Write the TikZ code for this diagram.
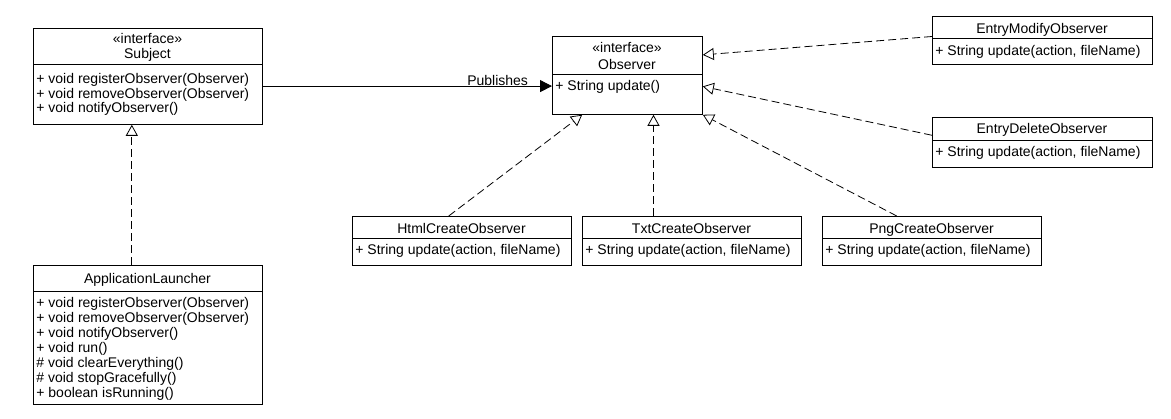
\documentclass[tikz,border=0pt]{standalone}
\usepackage{fontspec}
\setmainfont{Liberation Sans}
\usetikzlibrary{arrows.meta}
\usetikzlibrary{calc}

\tikzset{
  classbox/.style={draw, inner sep=0pt, anchor=north west},
  title/.style={anchor=base, inner sep=0pt},
  member/.style={anchor=base west, inner sep=0pt},
  realize/.style={dash pattern=on 8pt off 4pt, -{Triangle[open, length=11pt, width=12pt, fill=white]}},
  publish/.style={-{Triangle[length=12pt, width=12pt]}},
}

\begin{document}
\begin{tikzpicture}[x=1pt, y=-1pt, line width=0.8pt, font=\fontsize{14}{15}\selectfont]
\useasboundingbox (0,0) rectangle (1171,419);

% Subject
\node[classbox, minimum width=229pt, minimum height=96pt] (subject) at (33,28) {};
\draw (33,64) -- (262,64);
\node[title] (subject-st) at (147.5,43.5) {«interface»};
\node[title] (subject-name) at (147.5,59) {Subject};
\node[member] (subject-m1) at (36,84) {+ void registerObserver(Observer)};
\node[member] (subject-m2) at (36,98.5) {+ void removeObserver(Observer)};
\node[member] (subject-m3) at (36,113) {+ void notifyObserver()};

% ApplicationLauncher
\node[classbox, minimum width=229pt, minimum height=139pt] (app) at (33,265) {};
\draw (33,291) -- (262,291);
\node[title] (app-name) at (147.5,284) {ApplicationLauncher};
\node[member] (app-m1) at (36,307.5) {+ void registerObserver(Observer)};
\node[member] (app-m2) at (36,322.5) {+ void removeObserver(Observer)};
\node[member] (app-m3) at (36,337.5) {+ void notifyObserver()};
\node[member] (app-m4) at (36,352.5) {+ void run()};
\node[member] (app-m5) at (36,367.5) {\# void clearEverything()};
\node[member] (app-m6) at (36,382.5) {\# void stopGracefully()};
\node[member] (app-m7) at (36,397.5) {+ boolean isRunning()};

% Observer
\node[classbox, minimum width=150pt, minimum height=78pt] (observer) at (552,36) {};
\draw (552,74) -- (702,74);
\node[title] (observer-st) at (627,52.7) {«interface»};
\node[title] (observer-name) at (627,70) {Observer};
\node[member] (observer-m1) at (555,90.7) {+ String update()};

% EntryModifyObserver, EntryDeleteObserver
\node[classbox, minimum width=220pt, minimum height=48pt] (modify) at (932,16) {};
\draw (932,38) -- (1152,38);
\node[title] (modify-name) at (1042,33.3) {EntryModifyObserver};
\node[member] (modify-m1) at (935,56) {+ String update(action, fileName)};

\node[classbox, minimum width=220pt, minimum height=50pt] (delete) at (932,117) {};
\draw (932,140) -- (1152,140);
\node[title] (delete-name) at (1042,133.3) {EntryDeleteObserver};
\node[member] (delete-m1) at (935,156.7) {+ String update(action, fileName)};

% HtmlCreateObserver, TxtCreateObserver, PngCreateObserver
\node[classbox, minimum width=219pt, minimum height=49pt] (html) at (352,216) {};
\draw (352,238) -- (571,238);
\node[title] (html-name) at (461.5,233.3) {HtmlCreateObserver};
\node[member] (html-m1) at (355,255) {+ String update(action, fileName)};

\node[classbox, minimum width=219pt, minimum height=49pt] (txt) at (582,216) {};
\draw (582,238) -- (801,238);
\node[title] (txt-name) at (691.5,233.3) {TxtCreateObserver};
\node[member] (txt-m1) at (585,255) {+ String update(action, fileName)};

\node[classbox, minimum width=219pt, minimum height=49pt] (png) at (822,216) {};
\draw (822,238) -- (1041,238);
\node[title] (png-name) at (931.5,233.3) {PngCreateObserver};
\node[member] (png-m1) at (825,255) {+ String update(action, fileName)};

% connectors
\coordinate (pub) at ($(subject.north east)!0.6!(subject.south east)$);
\draw[publish] (pub) -- (pub -| observer.west)
  node[pos=0.812, above, inner sep=0.5pt] (pub-label) {Publishes};

\coordinate (subj-in) at ($(subject.south west)!0.43!(subject.south east)$);
\draw[realize] (app.north -| subj-in) -- (subj-in);

\draw[realize] ($(html.north west)!0.44!(html.north east)$) -- ($(observer.south west)!0.2!(observer.south east)$);
\coordinate (obs-in) at ($(observer.south west)!0.673!(observer.south east)$);
\draw[realize] (txt.north -| obs-in) -- (obs-in);
\draw[realize] ($(png.north west)!0.34!(png.north east)$) -- (observer.south east);
\draw[realize] ($(modify.north west)!0.42!(modify.south west)$) -- ($(observer.north east)!0.24!(observer.south east)$);
\draw[realize] ($(delete.north west)!0.36!(delete.south west)$) -- ($(observer.north east)!0.64!(observer.south east)$);
\end{tikzpicture}
\end{document}
